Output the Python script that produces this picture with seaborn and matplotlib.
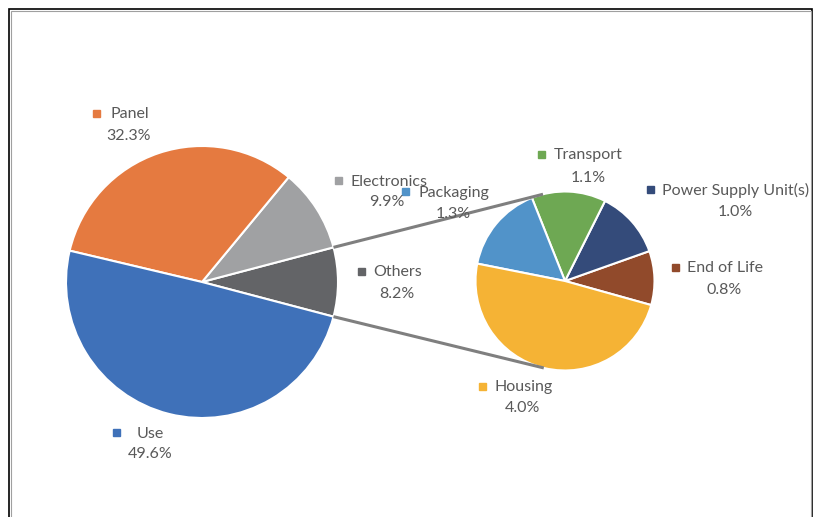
import numpy as np
import matplotlib
matplotlib.use("Agg")
import matplotlib.pyplot as plt
from matplotlib.patches import Rectangle
import seaborn as sns

# main pie (counterclockwise from the "Others" slice)
main_labels = ["Others", "Electronics", "Panel", "Use"]
main_values = [8.2, 9.9, 32.3, 49.6]
main_colors = ["#636467", "#A0A1A3", "#E57A40", "#3F71B9"]

# breakdown of "Others"
sub_labels = ["End of Life", "Power Supply Unit(s)", "Transport", "Packaging", "Housing"]
sub_values = [0.8, 1.0, 1.1, 1.3, 4.0]
sub_colors = ["#914A2B", "#344B7A", "#6EA853", "#5193C9", "#F5B335"]

W, H = 814, 517

sns.set_theme(style="white")
plt.rcParams["font.family"] = ["Lato", "DejaVu Sans"]

fig = plt.figure(figsize=(W / 100, H / 100), dpi=100)
ax = fig.add_axes([0, 0, 1, 1])
ax.set_xlim(0, W)
ax.set_ylim(0, H)
ax.set_aspect("equal")
ax.axis("off")

def py(y):
    # pixel row -> axes y
    return H - y

c1, r1 = (202, py(282)), 136
c2, r2 = (565, py(281)), 89.5

others_share = main_values[0] / sum(main_values) * 360
wedges1, _ = ax.pie(main_values, colors=main_colors, startangle=-others_share / 2,
                    center=c1, radius=r1, counterclock=True,
                    wedgeprops=dict(edgecolor="white", linewidth=1.5))
wedges2, _ = ax.pie(sub_values, colors=sub_colors, startangle=-15.6,
                    center=c2, radius=r2, counterclock=True,
                    wedgeprops=dict(edgecolor="white", linewidth=1.5))
ax.set_xlim(0, W)
ax.set_ylim(0, H)

# connector lines: from edges of "Others" slice, tangent to the second pie
w = wedges1[0]
for ang, sign in [(w.theta2, -1), (w.theta1, 1)]:
    t = np.deg2rad(ang)
    p = np.array([c1[0] + r1 * np.cos(t), c1[1] + r1 * np.sin(t)])
    d = p - np.array(c2)
    dist = np.hypot(*d)
    phi = np.arctan2(d[1], d[0])
    tang = phi + sign * np.arccos(r2 / dist)
    q = np.array([c2[0] + r2 * np.cos(tang), c2[1] + r2 * np.sin(tang)])
    ax.plot([p[0], q[0]], [p[1], q[1]], color="#7F7F7F", lw=2.2,
            solid_capstyle="butt", zorder=1)

# data labels: (square x, y), name start x, (pct centre x, y)
label_pos = {
    "Panel": ((96, 113), 111, (129, 134)),
    "Electronics": ((338, 180), 351, (387, 201)),
    "Others": ((361, 271), 373, (397, 293)),
    "Use": ((116, 432), 137, (150, 453)),
    "Transport": ((541, 154), 554, (588, 176)),
    "Power Supply Unit(s)": ((650, 189), 662, (735, 211)),
    "End of Life": ((675, 267), 687, (724, 288)),
    "Packaging": ((405, 191), 419, (453, 212)),
    "Housing": ((482, 386), 494, (522, 407)),
}
txt = "#595959"
for names, vals, cols in [(main_labels, main_values, main_colors),
                          (sub_labels, sub_values, sub_colors)]:
    for n, v, c in zip(names, vals, cols):
        if n not in label_pos:
            continue
        (sx, sy), nx, (px, pyy) = label_pos[n]
        ax.add_patch(Rectangle((sx - 3.5, py(sy) - 3.5), 7, 7, color=c, zorder=5))
        ax.text(nx, py(sy + 1.5), n, ha="left", va="center", fontsize=11.5, color=txt, zorder=6)
        ax.text(px, py(pyy + 1.5), f"{v:.1f}%", ha="center", va="center", fontsize=11.5,
                color=txt, zorder=6)

# chart frame
fig.patches.append(Rectangle((9 / W, -0.1), 803 / W, 1.1 - 9 / H, transform=fig.transFigure,
                             fill=False, edgecolor="black", lw=1.2))
fig.patches.append(Rectangle((10.5 / W, -0.1), 800.5 / W, 1.1 - 10.5 / H, transform=fig.transFigure,
                             fill=False, edgecolor="#A0A0A0", lw=0.8))

fig.savefig("out.png", dpi=100, facecolor="white")
